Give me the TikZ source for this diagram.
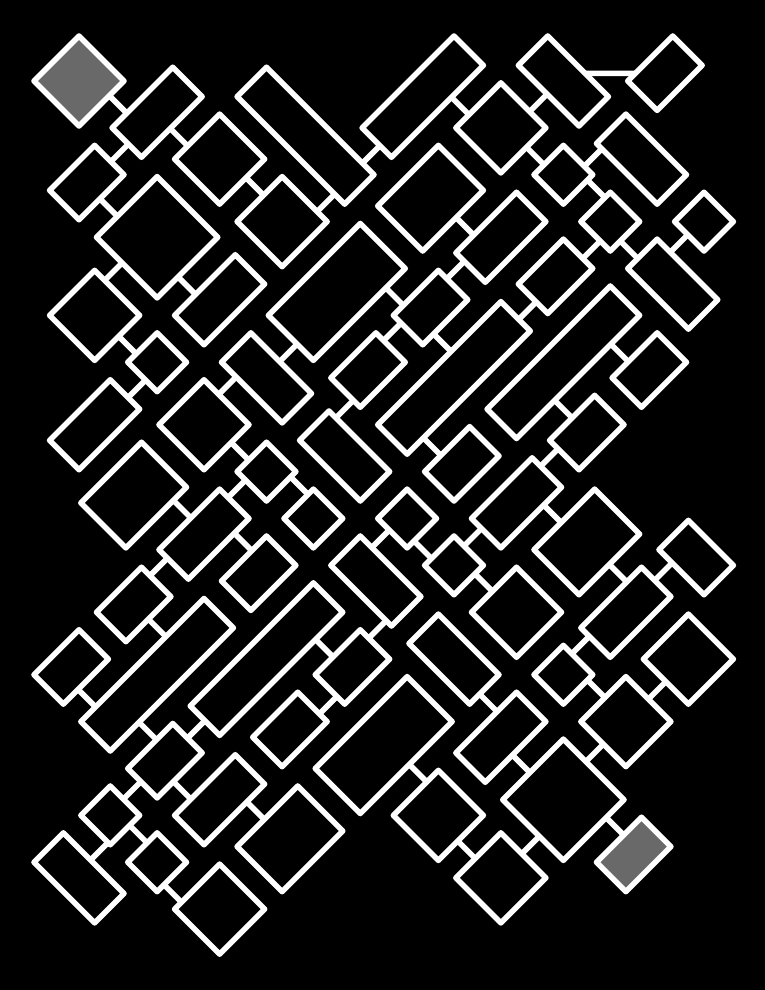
\documentclass[tikz,border=0pt]{standalone}
\usepackage{amsmath}
\usepackage{tikz}

\begin{document}
\begin{tikzpicture}[x=1pt,y=-1pt,
        room/.style={draw=white,line width=5.6pt,line join=round},
        goal/.style={room,fill={rgb, 255:red, 105; green, 105; blue, 105 }},
        door/.style={draw=white,line width=5.6pt}]
        %Shape: Rectangle [background]
        \fill [black] (0,0) rectangle (765,990) ;
        \useasboundingbox (0,0) rectangle (765,990) ;

        \begin{scope}[shift={(16.5,81)},rotate=-45,x=22.097pt,y=22.097pt]
        %Shape: Rectangle [start, end]
        \draw [goal] (0.56,0.56) rectangle (3.44,3.44) ;
        \draw [goal] (43.56,-6.44) rectangle (45.44,-3.56) ;

        %Shapes: Rectangle [top rooms]
        \draw [room] (4.56,1.56) rectangle (6.44,5.44) ;
        \draw [room] (7.56,6.56) rectangle (14.44,8.44) ;
        \draw [room] (4.56,-2.44) rectangle (6.44,0.44) ;
        \draw [room] (7.56,2.56) rectangle (10.44,5.44) ;
        \draw [room] (7.56,-2.44) rectangle (11.44,1.44) ;
        \draw [room] (11.56,2.56) rectangle (14.44,5.44) ;
        \draw [room] (8.56,-6.44) rectangle (11.44,-3.56) ;
        \draw [room] (12.56,-2.44) rectangle (14.44,1.44) ;
        \draw [room] (15.56,0.56) rectangle (18.44,6.44) ;
        \draw [room] (12.56,9.56) rectangle (14.44,15.44) ;
        \draw [room] (15.56,7.56) rectangle (18.44,11.44) ;
        \draw [room] (15.56,12.56) rectangle (18.44,15.44) ;
        \draw [room] (15.56,16.56) rectangle (19.44,18.44) ;
        \draw [room] (19.56,19.56) rectangle (21.44,22.44) ;
        \draw [room] (20.56,16.56) rectangle (24.44,18.44) ;
        \draw [room] (19.56,13.56) rectangle (21.44,15.44) ;
        \draw [room] (22.56,13.56) rectangle (24.44,15.44) ;
        \draw [room] (25.56,16.56) rectangle (27.44,18.44) ;
        \draw [room] (25.56,13.56) rectangle (29.44,15.44) ;
        \draw [room] (19.56,8.56) rectangle (21.44,12.44) ;
        \draw [room] (22.56,9.56) rectangle (24.44,12.44) ;
        \draw [room] (25.56,4.56) rectangle (27.44,12.44) ;
        \draw [room] (19.56,4.56) rectangle (21.44,7.44) ;
        \draw [room] (22.56,0.56) rectangle (24.44,8.44) ;

        %Shapes: Rectangle [middle rooms]
        \draw [room] (12.56,-5.44) rectangle (14.44,-3.56) ;
        \draw [room] (15.56,-2.44) rectangle (19.44,-0.56) ;
        \draw [room] (19.56,0.56) rectangle (21.44,3.44) ;
        \draw [room] (12.56,-10.44) rectangle (14.44,-6.56) ;
        \draw [room] (15.56,-6.44) rectangle (18.44,-3.56) ;
        \draw [room] (19.56,-5.44) rectangle (21.44,-3.56) ;
        \draw [room] (20.56,-2.44) rectangle (24.44,-0.56) ;
        \draw [room] (15.56,-11.44) rectangle (18.44,-7.56) ;
        \draw [room] (19.56,-10.44) rectangle (21.44,-6.56) ;
        \draw [room] (22.56,-5.44) rectangle (24.44,-3.56) ;
        \draw [room] (22.56,-9.44) rectangle (24.44,-6.56) ;
        \draw [room] (25.56,-5.44) rectangle (29.44,-3.56) ;
        \draw [room] (19.56,-14.44) rectangle (21.44,-11.56) ;
        \draw [room] (22.56,-18.44) rectangle (24.44,-10.56) ;
        \draw [room] (25.56,-14.44) rectangle (27.44,-6.56) ;
        \draw [room] (19.56,-18.44) rectangle (21.44,-15.56) ;
        \draw [room] (28.56,-9.44) rectangle (30.44,-6.56) ;
        \draw [room] (28.56,9.56) rectangle (30.44,12.44) ;
        \draw [room] (28.56,5.56) rectangle (30.44,8.44) ;
        \draw [room] (25.56,0.56) rectangle (27.44,3.44) ;
        \draw [room] (28.56,0.56) rectangle (30.44,4.44) ;
        \draw [room] (25.56,-2.44) rectangle (27.44,-0.56) ;
        \draw [room] (28.56,-2.44) rectangle (30.44,-0.56) ;
        \draw [room] (31.56,1.56) rectangle (34.44,5.44) ;
        \draw [room] (35.56,5.56) rectangle (38.44,7.44) ;
        \draw [room] (31.56,-2.44) rectangle (34.44,0.44) ;
        \draw [room] (35.56,0.56) rectangle (37.44,4.44) ;
        \draw [room] (35.56,-2.44) rectangle (37.44,-0.56) ;
        \draw [room] (30.56,-5.44) rectangle (34.44,-3.56) ;

        %Shapes: Rectangle [bottom rooms]
        \draw [room] (25.56,-18.44) rectangle (27.44,-15.56) ;
        \draw [room] (25.56,-21.44) rectangle (27.44,-19.56) ;
        \draw [room] (25.56,-24.44) rectangle (29.44,-22.56) ;
        \draw [room] (28.56,-21.44) rectangle (30.44,-19.56) ;
        \draw [room] (28.56,-18.44) rectangle (30.44,-14.56) ;
        \draw [room] (28.56,-13.44) rectangle (30.44,-10.56) ;
        \draw [room] (31.56,-17.44) rectangle (34.44,-13.56) ;
        \draw [room] (31.56,-21.44) rectangle (34.44,-18.56) ;
        \draw [room] (31.56,-12.44) rectangle (34.44,-6.56) ;
        \draw [room] (35.56,-7.44) rectangle (37.44,-3.56) ;
        \draw [room] (38.56,-7.44) rectangle (42.44,-3.56) ;
        \draw [room] (35.56,-11.44) rectangle (38.44,-8.56) ;
        \draw [room] (39.56,-11.44) rectangle (42.44,-8.56) ;
        \draw [room] (38.56,-2.44) rectangle (41.44,0.44) ;
        \draw [room] (38.56,1.56) rectangle (41.44,4.44) ;

        %Straight Lines [doors]
        \draw [door] (3.44,2.5) -- (4.56,2.5) ;
        \draw [door] (5.6,0.44) -- (5.6,1.56) ;
        \draw [door] (6.44,3.4) -- (7.56,3.4) ;
        \draw [door] (10.44,4.25) -- (11.56,4.25) ;
        \draw [door] (6.44,-1.1) -- (7.56,-1.1) ;
        \draw [door] (9.2,-3.56) -- (9.2,-2.44) ;
        \draw [door] (11.44,-1.1) -- (12.56,-1.1) ;
        \draw [door] (13.8,5.44) -- (13.8,6.56) ;
        \draw [door] (13.7,8.44) -- (13.7,9.56) ;
        \draw [door] (14.44,13.4) -- (15.56,13.4) ;
        \draw [door] (17.4,15.44) -- (17.4,16.56) ;
        \draw [door] (17.95,18.44) -- (19.56,20.05) ;
        \draw [door] (18.44,14.2) -- (19.56,14.2) ;
        \draw [door] (20.9,15.44) -- (20.9,16.56) ;
        \draw [door] (21.44,15.1) -- (22.56,15.1) ;
        \draw [door] (24.44,14.2) -- (25.56,14.2) ;
        \draw [door] (26.4,15.44) -- (26.4,16.56) ;
        \draw [door] (18.44,9.7) -- (19.56,9.7) ;
        \draw [door] (23.8,12.44) -- (23.8,13.56) ;
        \draw [door] (23.7,8.44) -- (23.7,9.56) ;
        \draw [door] (20.1,7.44) -- (20.1,8.56) ;
        \draw [door] (18.44,5.2) -- (19.56,5.2) ;
        \draw [door] (11.44,-4.9) -- (12.56,-4.9) ;
        \draw [door] (13.7,-6.56) -- (13.7,-5.44) ;
        \draw [door] (17.4,-0.56) -- (17.4,0.56) ;
        \draw [door] (16.5,-3.56) -- (16.5,-2.44) ;
        \draw [door] (18.44,-4.7) -- (19.56,-4.7) ;
        \draw [door] (21,-0.56) -- (21,0.56) ;
        \draw [door] (21.44,-3.9) -- (22.56,-3.9) ;
        \draw [door] (20.1,-6.56) -- (20.1,-5.44) ;
        \draw [door] (18.44,-8.4) -- (19.56,-8.4) ;
        \draw [door] (21.44,-7.5) -- (22.56,-7.5) ;
        \draw [door] (21.44,-13) -- (22.56,-13) ;
        \draw [door] (20.1,-11.56) -- (20.1,-10.44) ;
        \draw [door] (29.1,-6.56) -- (29.1,-5.44) ;
        \draw [door] (27.44,-8.3) -- (28.56,-8.3) ;
        \draw [door] (26.3,-3.56) -- (26.3,-2.44) ;
        \draw [door] (20.05,3.44) -- (20.05,4.56) ;
        \draw [door] (21.44,5.25) -- (22.56,5.25) ;
        \draw [door] (24.44,1.6) -- (25.56,1.6) ;
        \draw [door] (29.1,4.44) -- (29.1,5.56) ;
        \draw [door] (27.44,7) -- (28.56,7) ;
        \draw [door] (27.44,10.6) -- (28.56,10.6) ;
        \draw [door] (30.44,3.3) -- (31.56,3.3) ;
        \draw [door] (29.2,-0.56) -- (29.2,0.56) ;
        \draw [door] (27.44,-2) -- (28.56,-2) ;
        \draw [door] (30.44,-1.1) -- (31.56,-1.1) ;
        \draw [door] (34.44,3.5) -- (35.56,3.5) ;
        \draw [door] (36.4,4.44) -- (36.4,5.56) ;
        \draw [door] (36.1,-0.56) -- (36.1,0.56) ;
        \draw [door] (21.44,-17.5) -- (22.56,-17.5) ;
        \draw [door] (24.44,-16.6) -- (25.56,-16.6) ;
        \draw [door] (26.5,-15.56) -- (26.5,-14.44) ;
        \draw [door] (26.4,-19.56) -- (26.4,-18.44) ;
        \draw [door] (27.44,-17.4) -- (28.56,-17.4) ;
        \draw [door] (27.3,-22.56) -- (27.3,-21.44) ;
        \draw [door] (27.44,-20.2) -- (28.56,-20.2) ;
        \draw [door] (30.44,-21) -- (31.56,-21) ;
        \draw [door] (30.44,-15.7) -- (31.56,-15.7) ;
        \draw [door] (29.95,-10.56) -- (29.95,-9.44) ;
        \draw [door] (34.44,-9.3) -- (35.56,-9.3) ;
        \draw [door] (34.44,-4.8) -- (35.56,-4.8) ;
        \draw [door] (37.44,-5.7) -- (38.56,-5.7) ;
        \draw [door] (37.44,-0.9) -- (38.56,-0.9) ;
        \draw [door] (40,0.44) -- (40,1.56) ;
        \draw [door] (40,-3.56) -- (40,-2.44) ;
        \draw [door] (38.44,-10.2) -- (39.56,-10.2) ;
        \draw [door] (40.9,-8.56) -- (40.9,-7.44) ;
        \draw [door] (42.44,-4.7) -- (43.56,-4.7) ;
        \end{scope}

\end{tikzpicture}
\end{document}
